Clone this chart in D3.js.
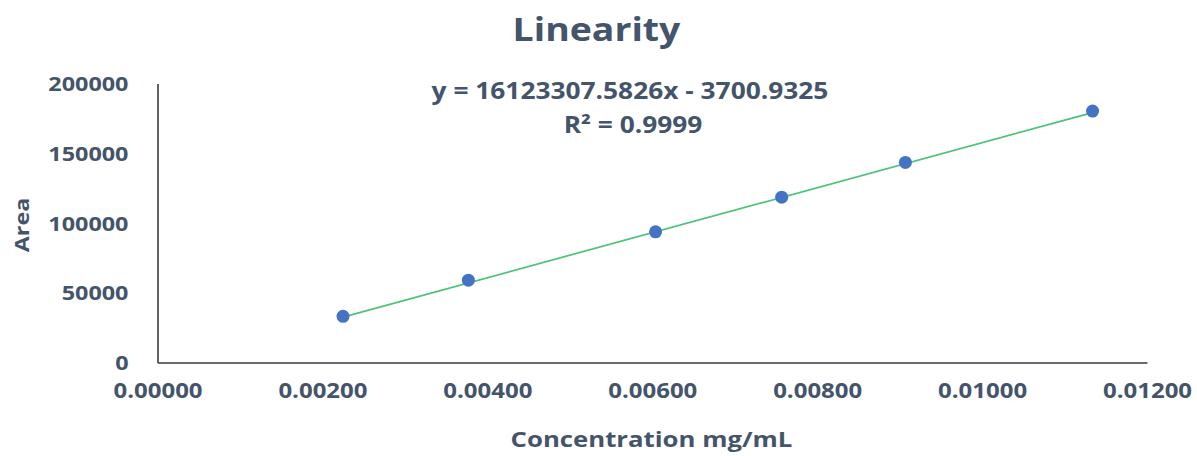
<!DOCTYPE html>
<html>
<head>
<meta charset="utf-8">
<script src="https://cdn.jsdelivr.net/npm/d3@7"></script>
<style>
  html, body { margin: 0; padding: 0; background: #fff; }
  svg text { font-family: "Open Sans", "Liberation Sans", sans-serif; font-weight: 700; fill: #44546A; }
</style>
</head>
<body>
<svg id="chart" width="1197" height="456"></svg>
<script>
// Calibration data: concentration (mg/mL) vs. peak area
const concentration = [0.00225, 0.00377, 0.00604, 0.00757, 0.00907, 0.01134];
const area = [33100, 59000, 93700, 118500, 143400, 180200];

// Least-squares trendline reported on the chart
const slope = 16123307.5826;
const intercept = -3700.9325;
const rSquared = 0.9999;

const xTicks = [0, 0.002, 0.004, 0.006, 0.008, 0.010, 0.012];
const yTicks = [0, 50000, 100000, 150000, 200000];

const titleText = "Linearity";
const xTitle = "Concentration mg/mL";
const yTitle = "Area";

const svg = d3.select("#chart");
const stretch = 1.17; // wide lettering

const x = d3.scaleLinear().domain([0, 0.012]).range([157.5, 1147]);
const y = d3.scaleLinear().domain([0, 200000]).range([362.5, 83.5]);

// Axes
const xAxis = svg.append("g")
  .attr("transform", `translate(0,${y(0)})`)
  .call(d3.axisBottom(x).tickValues(xTicks).tickSize(0).tickFormat(d3.format(".5f")));
const yAxis = svg.append("g")
  .attr("transform", `translate(${x(0)},0)`)
  .call(d3.axisLeft(y).tickValues(yTicks).tickSize(0).tickFormat(d3.format("d")));

[xAxis, yAxis].forEach(a => a.select(".domain").attr("stroke", "#3a3a3a").attr("stroke-width", 1.6));

xAxis.selectAll(".tick text")
  .attr("y", 0).attr("dy", 0)
  .attr("font-size", 20.5)
  .attr("font-family", null)
  .attr("transform", `translate(0,35) scale(${stretch},1)`);

yAxis.selectAll(".tick text")
  .attr("x", 0).attr("dy", "0.36em")
  .attr("font-size", 20)
  .attr("font-family", null)
  .attr("transform", `translate(-29,0) scale(${stretch},1)`);

// Trendline spanning the measured range
const xExtent = d3.extent(concentration);
svg.append("line")
  .attr("x1", x(xExtent[0])).attr("y1", y(slope * xExtent[0] + intercept))
  .attr("x2", x(xExtent[1])).attr("y2", y(slope * xExtent[1] + intercept))
  .attr("stroke", "#4CC27A").attr("stroke-width", 1.7);

// Data points
svg.append("g").selectAll("circle")
  .data(concentration.map((c, i) => [c, area[i]]))
  .join("circle")
  .attr("cx", d => x(d[0])).attr("cy", d => y(d[1]))
  .attr("r", 6.5).attr("fill", "#4472C4");

// Text helpers
function label(txt, cx, cy, size, rotate) {
  svg.append("text")
    .attr("text-anchor", "middle")
    .attr("font-size", size)
    .attr("transform", `translate(${cx},${cy})${rotate ? " rotate(-90)" : ""} scale(${stretch},1)`)
    .text(txt);
}

label(titleText, 596.5, 41, 32);
label(`y = ${slope.toFixed(4)}x - ${Math.abs(intercept).toFixed(4)}`, 630, 99, 22.5);
label(`R² = ${rSquared.toFixed(4)}`, 633, 133, 22.5);
label(xTitle, 651.5, 447, 22);
label(yTitle, 29, 225, 20, true);
</script>
</body>
</html>
